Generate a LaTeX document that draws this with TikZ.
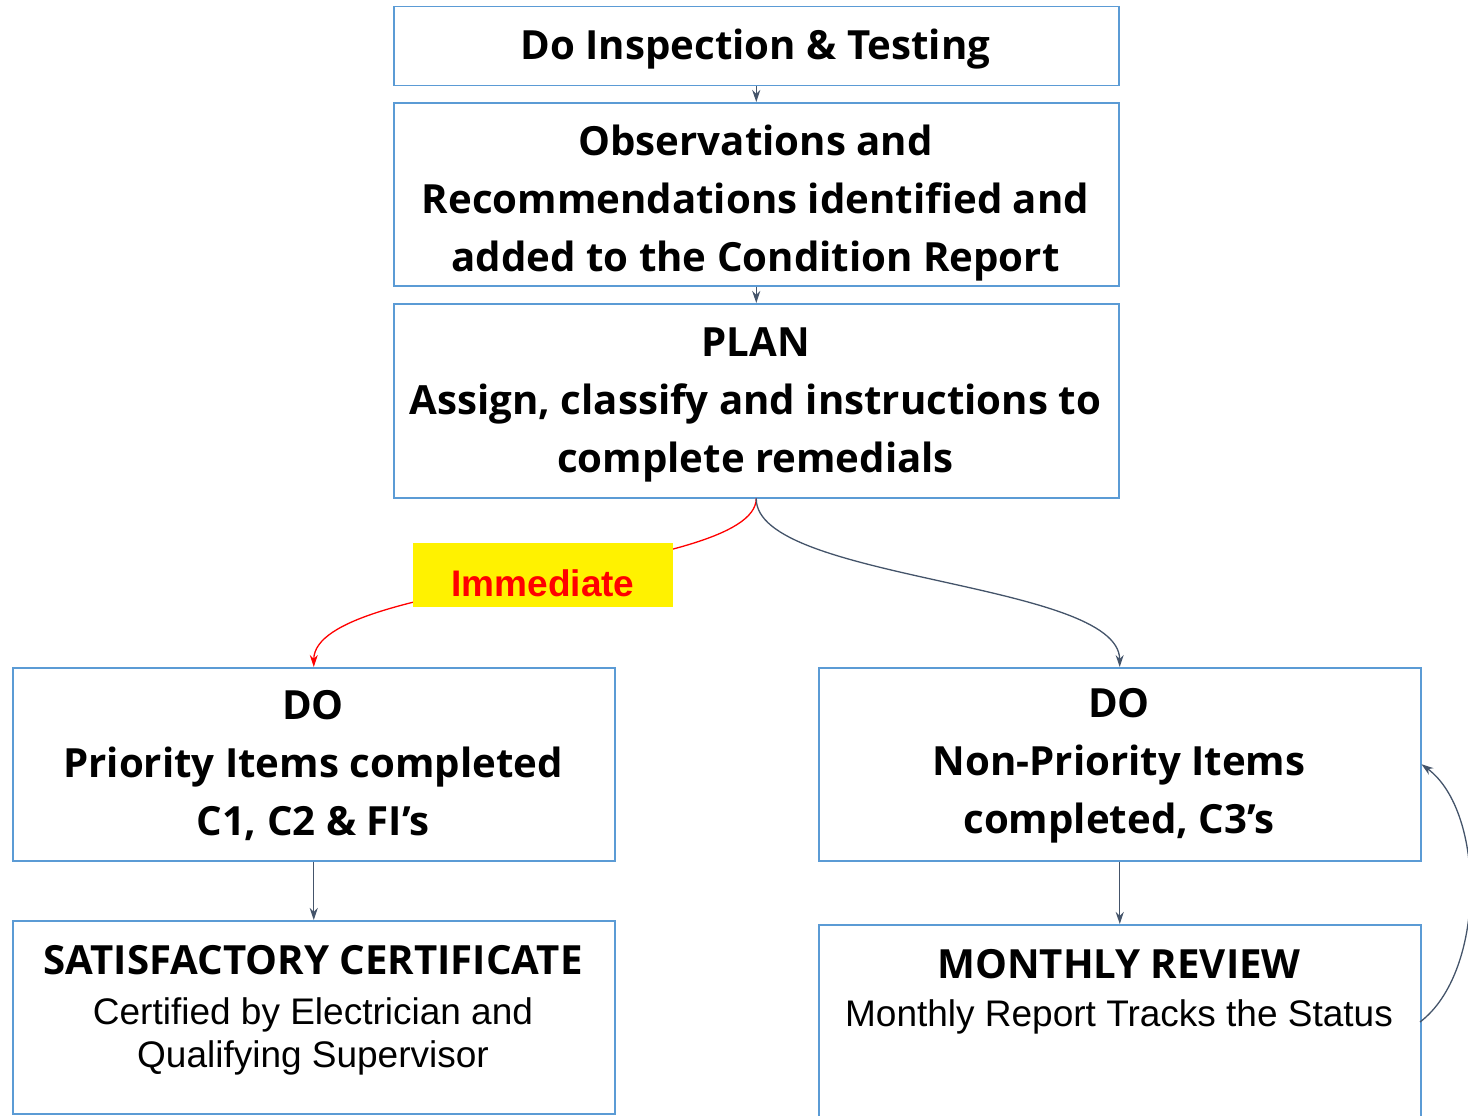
\documentclass[tikz,border=0pt]{standalone}
\usepackage{fontspec}
\setmainfont{Open Sans}
\newfontfamily\arialf{Liberation Sans}
\usetikzlibrary{arrows.meta}
\definecolor{boxblue}{RGB}{91,155,213}
\definecolor{slate}{RGB}{68,84,106}
\begin{document}
\begin{tikzpicture}[x=1pt,y=-1pt,
  box/.style={draw=boxblue,line width=1.5pt,anchor=north west,inner sep=0pt},
  boldtxt/.style={inner sep=0pt,align=center,font=\fontsize{40.2}{58}\selectfont\bfseries},
  regtxt/.style={inner sep=0pt,align=center,font=\arialf\fontsize{37}{43}\selectfont},
  conn/.style={draw=slate,line width=1.3pt,-{Stealth[length=12pt,width=8pt]}},
  redconn/.style={draw=red,line width=1.3pt,-{Stealth[length=12pt,width=8pt]}}]
\useasboundingbox (0,0) rectangle (1468,1116);
\node[box, minimum width=725pt, minimum height=79pt] (b1) at (393,6) {};
\node[box, minimum width=725pt, minimum height=183pt] (b2) at (393,102) {};
\node[box, minimum width=725pt, minimum height=194pt] (b3) at (393,303) {};
\node[box, minimum width=602pt, minimum height=193pt] (b4) at (12,667) {};
\node[box, minimum width=602pt, minimum height=193pt] (b5) at (818,667) {};
\node[box, minimum width=602pt, minimum height=193pt] (b6) at (12,920) {};
\node[box, minimum width=602pt, minimum height=220pt] (b7) at (818,924) {};
\node[boldtxt] (t1) at (755.5,49.5) {Do Inspection \& Testing};
\node[boldtxt] (t2) at (755.5,203.5) {Observations and\\Recommendations identified and\\added to the Condition Report};
\node[boldtxt] (t3) at (755.5,405) {PLAN\\Assign, classify and instructions to\\complete remedials};
\node[boldtxt] (t4) at (313,766) {DO\\Priority Items completed\\C1, C2 \& FI’s};
\node[boldtxt] (t5) at (1119,766) {DO\\Non-Priority Items\\completed, C3’s};
\node[boldtxt] (t6) at (313,960) {SATISFACTORY CERTIFICATE};
\node[regtxt] (s6) at (313,1036.5) {Certified by Electrician and\\Qualifying Supervisor};
\node[boldtxt] (t7) at (1119,964) {MONTHLY REVIEW};
\node[regtxt] (s7) at (1119,1017) {Monthly Report Tracks the Status};
\coordinate (fb) at (1420,1022);
\draw[conn] (b1.south) -- (b2.north);
\draw[conn] (b2.south) -- (b3.north);
\draw[conn] (b4.south) -- (b6.north);
\draw[conn] (b5.south) -- (b7.north);
\draw[redconn] (b3.south) .. controls (755.5,577) and (314,577) .. (b4.north);
\draw[conn] (b3.south) .. controls (755.5,581) and (1119,581) .. (b5.north);
\draw[conn] (fb) .. controls (1486,972) and (1486,812) .. (b5.east);
\node[fill=yellow, minimum width=260pt, minimum height=64pt, anchor=north west, inner sep=0pt] (imm) at (413,543) {};
\node[inner sep=0pt, font=\arialf\bfseries\fontsize{37}{40}\selectfont, text=red] (immt) at (543,583) {Immediate};
\end{tikzpicture}
\end{document}
